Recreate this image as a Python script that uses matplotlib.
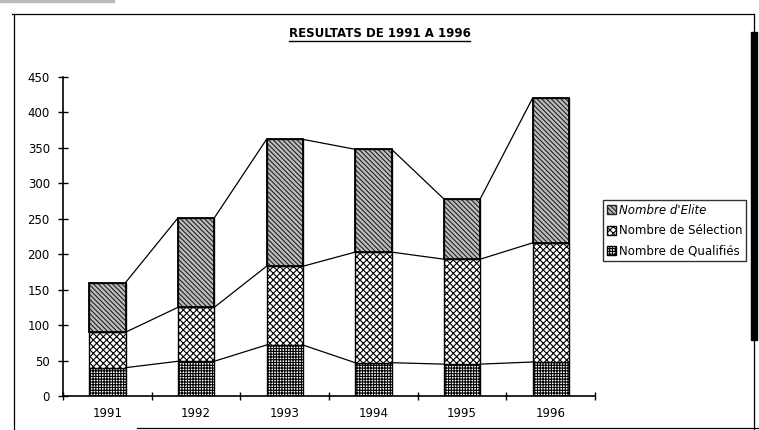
import numpy as np
import matplotlib.pyplot as plt
from matplotlib.patches import Rectangle
from matplotlib.lines import Line2D

plt.rcParams['font.family'] = ['DejaVu Sans']
plt.rcParams['hatch.linewidth'] = 0.8

# data
years = ['1991', '1992', '1993', '1994', '1995', '1996']
qualifies = [40, 49, 72, 47, 45, 48]
selection = [50, 76, 111, 156, 148, 168]
elite = [70, 126, 179, 145, 85, 204]
series_names = ["Nombre d'Elite", 'Nombre de Sélection', 'Nombre de Qualifiés']

fig = plt.figure(figsize=(7.59, 4.30), dpi=100)
ax = fig.add_axes([0.083, 0.079, 0.701, 0.742])

x = np.arange(len(years))
w = 0.41
q = np.array(qualifies)
s = np.array(selection)
e = np.array(elite)

b1 = ax.bar(x, q, w, color='white', edgecolor='black', hatch='++++++', linewidth=1.0)
b2 = ax.bar(x, s, w, bottom=q, color='white', edgecolor='black', hatch='xxxxx', linewidth=1.0)
b3 = ax.bar(x, e, w, bottom=q + s, color='#bdbdbd', edgecolor='#222222', hatch='\\\\\\\\\\\\\\', linewidth=1.0)
for b in b3:
    ax.add_patch(Rectangle(b.get_xy(), b.get_width(), b.get_height(), fill=False, edgecolor='black', lw=1.3))

# series lines between the stacks
for level in [q, q + s, q + s + e]:
    for i in range(len(x) - 1):
        ax.plot([x[i] + w / 2, x[i + 1] - w / 2], [level[i], level[i + 1]], color='black', lw=0.9)

ax.set_xlim(-0.5, 5.5)
ax.set_ylim(0, 450)
ax.set_yticks(np.arange(0, 451, 50))
ax.set_xticks(np.arange(-0.5, 5.6, 1))
ax.set_xticklabels([])
ax.set_xticks(x, minor=True)
ax.set_xticklabels(years, minor=True)
ax.tick_params(axis='x', which='major', direction='inout', length=6, width=1)
ax.tick_params(axis='x', which='minor', length=0, pad=8, labelsize=8.5)
ax.tick_params(axis='y', direction='inout', length=7, width=1, pad=6, labelsize=8.5)
for side in ['top', 'right']:
    ax.spines[side].set_visible(False)
ax.spines['left'].set_linewidth(1.2)
ax.spines['bottom'].set_linewidth(1.2)

# title, underlined
title = fig.text(0.5, 0.923, 'RESULTATS DE 1991 A 1996', ha='center', va='center',
                 fontsize=8.5, fontweight='bold')
fig.canvas.draw()
bb = title.get_window_extent().transformed(fig.transFigure.inverted())
fig.add_artist(Line2D([bb.x0, bb.x1], [bb.y0 - 0.003, bb.y0 - 0.003], color='black', lw=1.0))

leg = fig.legend([b3, b2, b1], series_names, loc='upper left', bbox_to_anchor=(0.794, 0.535),
                 fontsize=8.5, frameon=True, fancybox=False, edgecolor='black',
                 handlelength=0.8, handleheight=0.8, handletextpad=0.2, borderpad=0.35,
                 labelspacing=0.6, borderaxespad=0)
leg.get_frame().set_linewidth(1.0)
leg.get_texts()[0].set_fontstyle('italic')

# scanned page frame
fig.add_artist(Line2D([0.016, 0.993], [0.968, 0.968], color='black', lw=0.9))
fig.add_artist(Line2D([0.018, 0.018], [0.0, 0.968], color='black', lw=0.9))
fig.add_artist(Line2D([0.993, 0.993], [0.0, 0.968], color='black', lw=0.9))
fig.add_artist(Line2D([0.18, 1.0], [0.005, 0.005], color='black', lw=0.9))
fig.add_artist(Rectangle((0.990, 0.21), 0.008, 0.715, color='black', transform=fig.transFigure))
fig.add_artist(Rectangle((0.0, 0.995), 0.15, 0.005, color='#bbbbbb', transform=fig.transFigure))

fig.savefig('out.png', dpi=100)
